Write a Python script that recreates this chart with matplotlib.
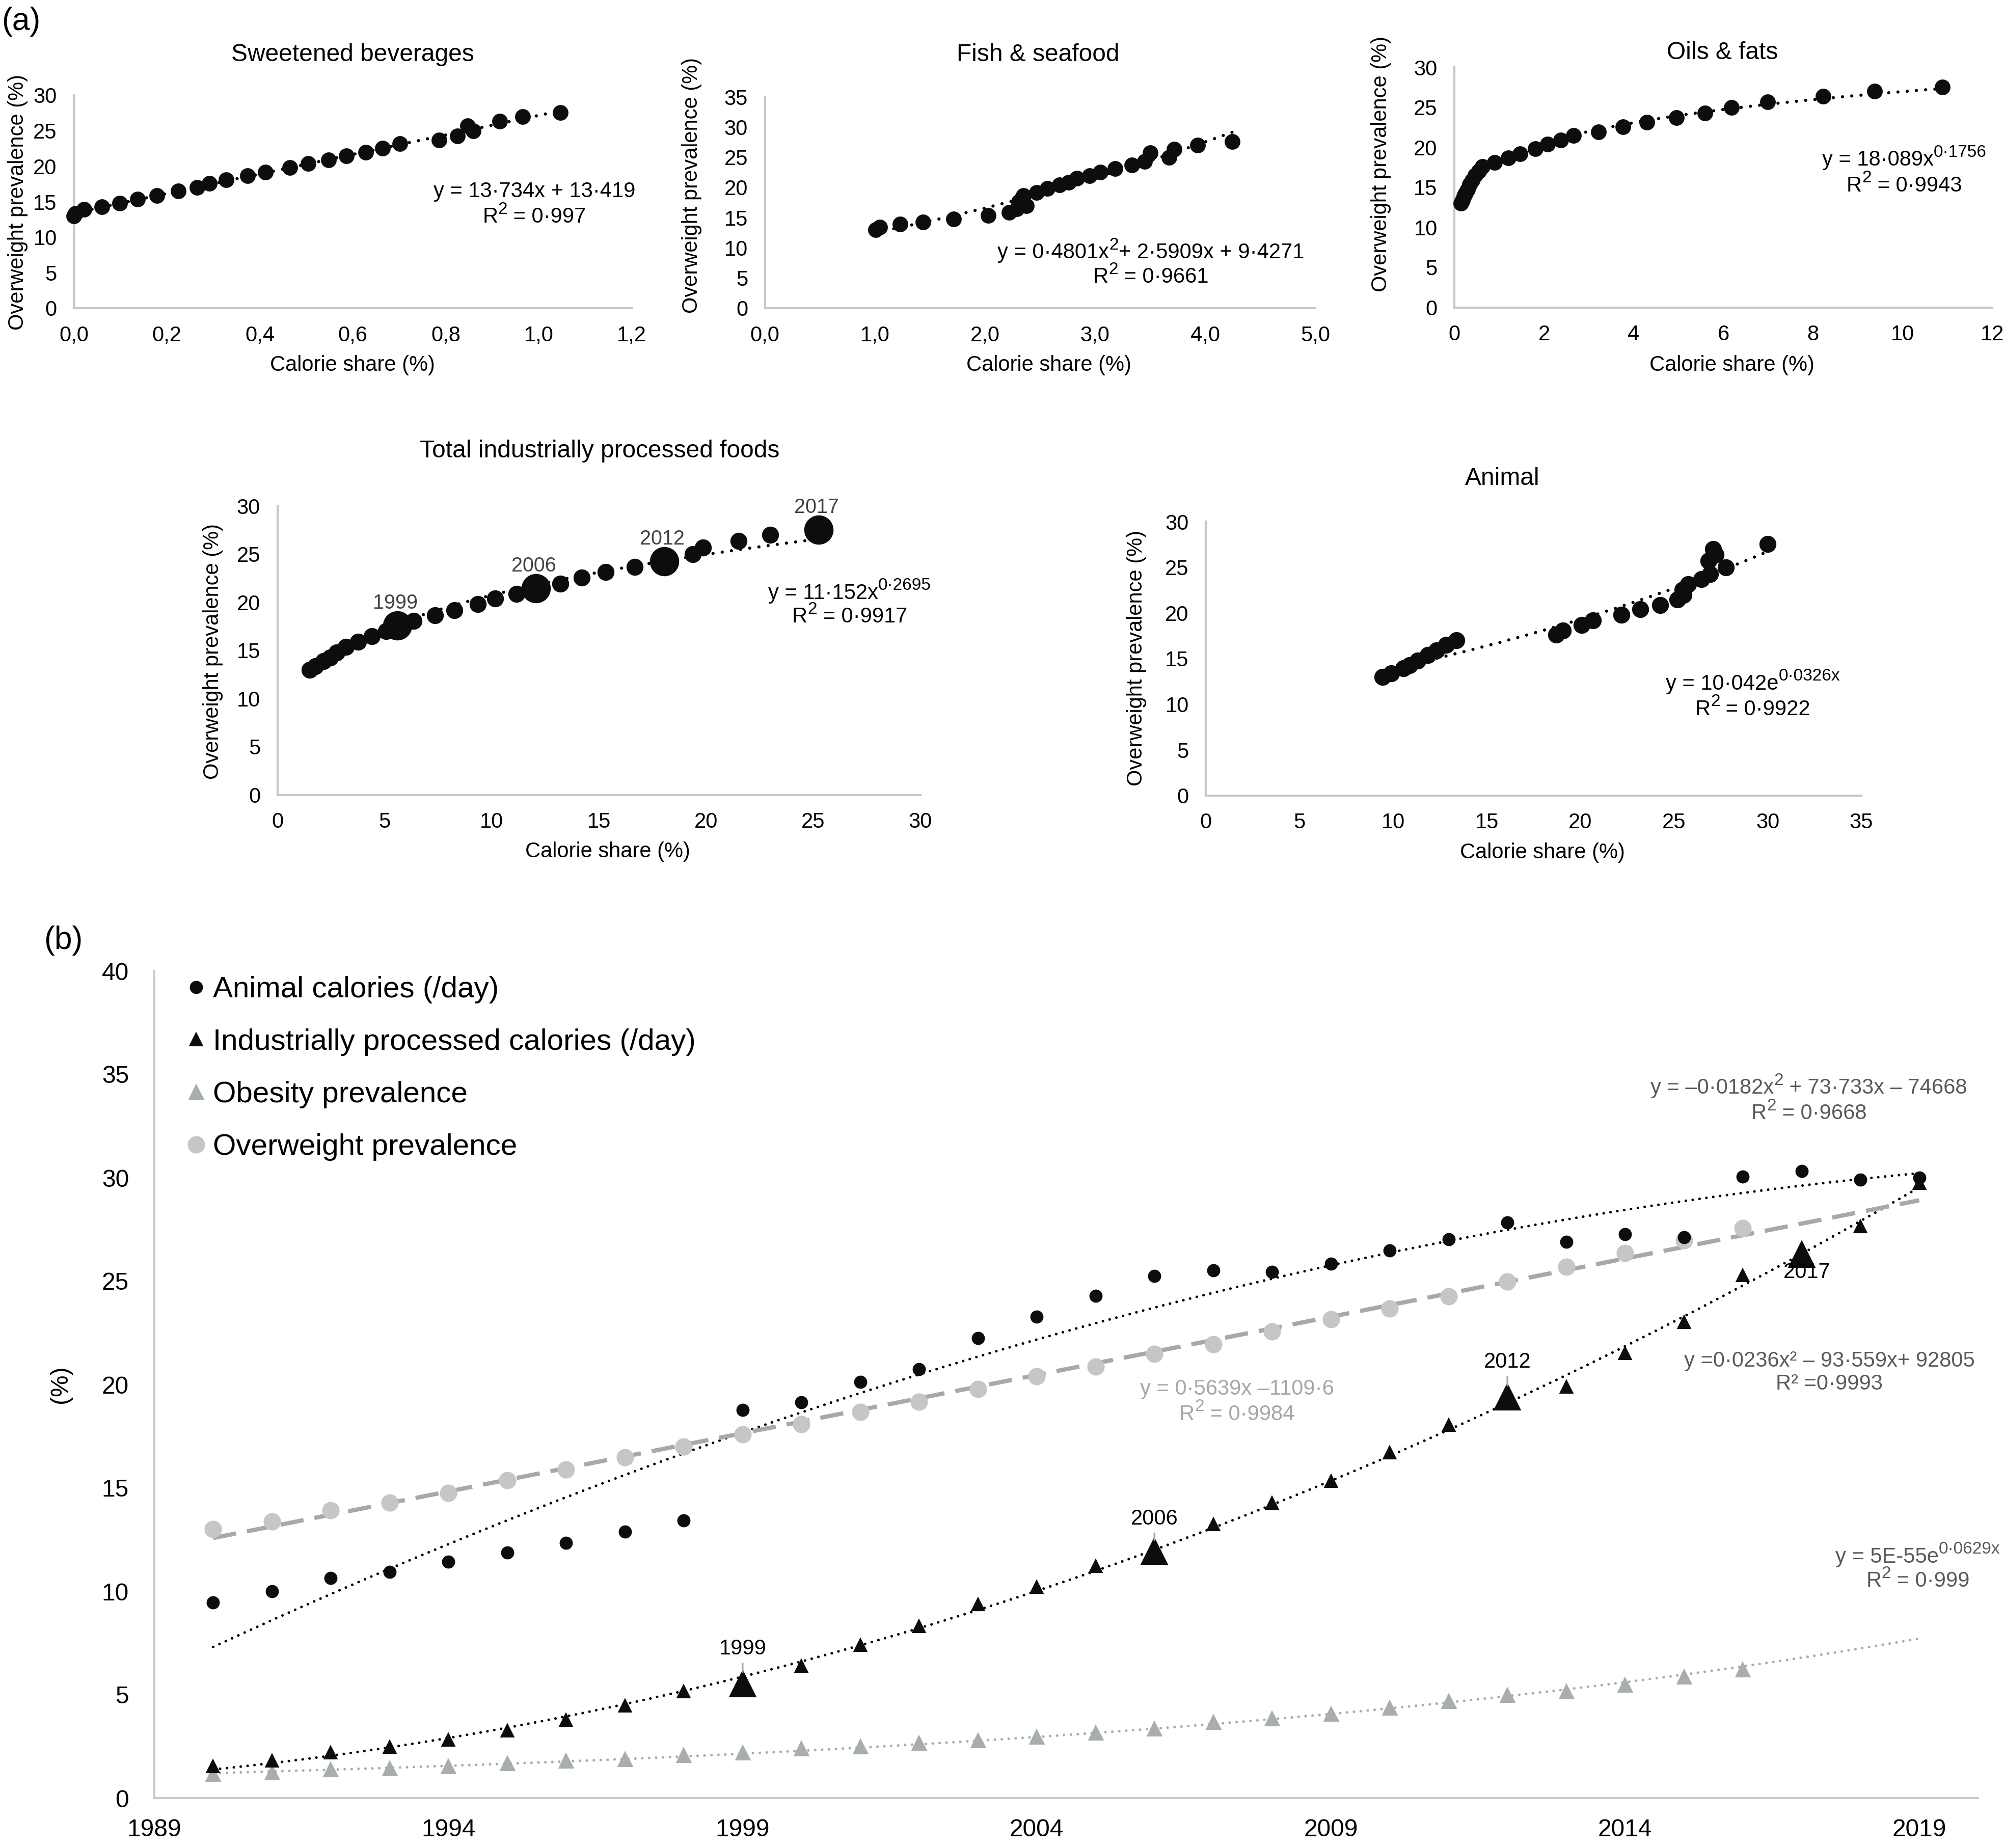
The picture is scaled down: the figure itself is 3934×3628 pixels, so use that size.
import numpy as np
import matplotlib
matplotlib.use('Agg')
import matplotlib.pyplot as plt
from matplotlib.lines import Line2D

plt.rcParams['font.family'] = ['Liberation Sans', 'DejaVu Sans']

# ---------------- data ----------------
# overweight prevalence 1990-2016 (%), shared y of panel (a)
overweight = [13.0, 13.37, 13.91, 14.28, 14.76, 15.36, 15.88, 16.48, 16.99, 17.59,
              18.07, 18.67, 19.16, 19.79, 20.39, 20.87, 21.47, 21.95, 22.55, 23.15,
              23.67, 24.27, 24.98, 25.69, 26.35, 26.98, 27.55]

sweet_x = [0.0, 0.003, 0.022, 0.06, 0.099, 0.137, 0.179, 0.225, 0.265, 0.292,
           0.328, 0.374, 0.412, 0.465, 0.504, 0.548, 0.586, 0.628, 0.664, 0.701,
           0.786, 0.825, 0.859, 0.847, 0.916, 0.966, 1.047]
fish_x = [1.005, 1.044, 1.228, 1.438, 1.715, 2.029, 2.219, 2.29, 2.376, 2.307,
          2.33, 2.35, 2.469, 2.566, 2.678, 2.762, 2.835, 2.95, 3.046, 3.18,
          3.333, 3.452, 3.671, 3.502, 3.72, 3.93, 4.246]
oils_x = [0.15, 0.18, 0.22, 0.25, 0.29, 0.34, 0.40, 0.47, 0.54, 0.63,
          0.9, 1.2, 1.47, 1.81, 2.08, 2.38, 2.66, 3.22, 3.76, 4.3,
          4.96, 5.59, 6.18, 6.99, 8.23, 9.37, 10.89]
total_x = [1.5, 1.77, 2.14, 2.45, 2.77, 3.2, 3.77, 4.41, 5.07, 5.59,
           6.36, 7.36, 8.25, 9.36, 10.16, 11.16, 12.05, 13.2, 14.2, 15.32,
           16.68, 18.05, 19.39, 19.86, 21.52, 23.0, 25.25]
total_big_idx = [9, 16, 21, 26]
total_big_labels = ['1999', '2006', '2012', '2017']
animal_x = [9.45, 9.89, 10.54, 10.88, 11.32, 11.87, 12.31, 12.83, 13.37, 18.7,
            19.07, 20.06, 20.66, 22.2, 23.19, 24.25, 25.19, 25.5, 25.45, 25.76,
            26.47, 26.93, 27.77, 26.83, 27.22, 27.09, 30.0]

# panel (b)
years = list(range(1990, 2020))
animal_b = [9.46, 10.0, 10.63, 10.94, 11.43, 11.88, 12.34, 12.88, 13.42, 18.76,
            19.13, 20.13, 20.73, 22.24, 23.27, 24.29, 25.24, 25.52, 25.44, 25.84,
            26.49, 27.01, 27.83, 26.89, 27.26, 27.12, 30.06, 30.31, 29.89, 30.0]
industrial_b = [1.53, 1.81, 2.18, 2.47, 2.81, 3.24, 3.78, 4.47, 5.15, 5.52,
                6.38, 7.38, 8.29, 9.37, 10.2, 11.2, 11.91, 13.22, 14.25, 15.33,
                16.70, 18.04, 19.38, 19.87, 21.50, 23.01, 25.26, 26.29, 27.63, 29.74]
overweight_b = overweight
obesity_b = [1.16, 1.24, 1.38, 1.44, 1.53, 1.67, 1.81, 1.87, 2.07, 2.18,
             2.38, 2.50, 2.67, 2.78, 2.95, 3.15, 3.35, 3.67, 3.84, 4.07,
             4.35, 4.67, 4.98, 5.15, 5.46, 5.86, 6.21]
big_years_b = [1999, 2006, 2012, 2017]

legend_labels = ['Animal calories (/day)', 'Industrially processed calories (/day)',
                 'Obesity prevalence', 'Overweight prevalence']

# ---------------- figure ----------------
W, H, DPI = 3934, 3628, 300
fig = plt.figure(figsize=(W / DPI, H / DPI), dpi=DPI)
fig.patch.set_facecolor('white')
renderer = fig.canvas.get_renderer()

AXC = '#C3C9C9'
TXT = '#000000'


def add_ax(x0, x1, ytop, ybot):
    return fig.add_axes([x0 / W, 1 - ybot / H, (x1 - x0) / W, (ybot - ytop) / H])


def ftext(x, y, s, **kw):
    return fig.text(x / W, 1 - y / H, s, ha=kw.pop('ha', 'center'), va=kw.pop('va', 'center'), **kw)


def text_width(s, fs):
    t1 = fig.text(0, 0, 'x' + s + 'x', fontsize=fs)
    t2 = fig.text(0, 0, 'xx', fontsize=fs)
    w = t1.get_window_extent(renderer).width - t2.get_window_extent(renderer).width
    t1.remove()
    t2.remove()
    return w


def sup_text(xc, yc, parts, fs=10, color='black', ss=0.8):
    """parts: list of (string, is_superscript); centred at (xc, yc) in pixels."""
    px_per_pt = DPI / 72.0
    sizes = [fs * ss if sup else fs for _, sup in parts]
    widths = [text_width(s, f) for (s, _), f in zip(parts, sizes)]
    x = xc - sum(widths) / 2.0
    base = yc + 0.36 * fs * px_per_pt
    for (s, sup), f, w in zip(parts, sizes, widths):
        yb = base - (0.42 * fs * px_per_pt if sup else 0)
        fig.text(x / W, 1 - yb / H, s, fontsize=f, color=color, ha='left', va='baseline')
        x += w


def style(ax, fs, pad_x, pad_y, lw=1.0):
    for side in ['top', 'right']:
        ax.spines[side].set_visible(False)
    for side in ['left', 'bottom']:
        ax.spines[side].set_color(AXC)
        ax.spines[side].set_linewidth(lw)
    ax.tick_params(axis='both', length=0, labelsize=fs, colors=TXT)
    ax.tick_params(axis='x', pad=pad_x)
    ax.tick_params(axis='y', pad=pad_y)
    ax.set_facecolor('none')


DOT = (0, (0.01, 2.9))
DOTB = (0, (0.01, 2.6))


def trend_line(ax, xs, ys, color='black', lw=1.5, ls=DOT, z=1):
    ax.plot(xs, ys, color=color, lw=lw, ls=ls, dash_capstyle='round',
            solid_capstyle='round', zorder=z, clip_on=False)


def scatter_a(ax, x, y, ms=6.4):
    ax.plot(x, y, ls='none', marker='o', ms=ms, color='#0d0d0d', mec='#0d0d0d',
            zorder=3, clip_on=False)


ow = np.array(overweight)

# ---- (a1) Sweetened beverages
ax1 = add_ax(145, 1240, 187, 605)
style(ax1, 10, 8, 8)
ax1.set_xlim(0, 1.2)
ax1.set_ylim(0, 30)
ax1.set_xticks([0, 0.2, 0.4, 0.6, 0.8, 1.0, 1.2])
ax1.set_xticklabels(['0,0', '0,2', '0,4', '0,6', '0,8', '1,0', '1,2'])
ax1.set_yticks(range(0, 31, 5))
sx = np.array(sweet_x)
c = np.polyfit(sx, ow, 1)
xx = np.linspace(sx.min(), sx.max(), 200)
trend_line(ax1, xx, np.polyval(c, xx))
scatter_a(ax1, sx, ow)
ftext(692, 107, 'Sweetened beverages', fontsize=11.5)
ftext(692, 717, 'Calorie share (%)', fontsize=10)
ftext(35, 397, 'Overweight prevalence (%)', fontsize=10, rotation=90)
ftext(1049, 376, 'y = 13·734x + 13·419', fontsize=10)
sup_text(1049, 422, [('R', False), ('2', True), (' = 0·997', False)])

# ---- (a2) Fish & seafood
ax2 = add_ax(1501.5, 2582, 190, 605)
style(ax2, 10, 8, 8)
ax2.set_xlim(0, 5)
ax2.set_ylim(0, 35)
ax2.set_xticks([0, 1, 2, 3, 4, 5])
ax2.set_xticklabels(['0,0', '1,0', '2,0', '3,0', '4,0', '5,0'])
ax2.set_yticks(range(0, 36, 5))
fx = np.array(fish_x)
c = np.polyfit(fx, ow, 2)
xx = np.linspace(fx.min(), fx.max(), 200)
trend_line(ax2, xx, np.polyval(c, xx))
scatter_a(ax2, fx, ow)
ftext(2038, 107, 'Fish & seafood', fontsize=11.5)
ftext(2059, 717, 'Calorie share (%)', fontsize=10)
ftext(1358, 364, 'Overweight prevalence (%)', fontsize=10, rotation=90)
sup_text(2259, 492, [('y = 0·4801x', False), ('2', True), ('+ 2·5909x + 9·4271', False)])
sup_text(2259, 540, [('R', False), ('2', True), (' = 0·9661', False)])

# ---- (a3) Oils & fats
ax3 = add_ax(2855, 3911, 132, 603.5)
style(ax3, 10, 8, 8)
ax3.set_xlim(0, 12)
ax3.set_ylim(0, 30)
ax3.set_xticks(range(0, 13, 2))
ax3.set_yticks(range(0, 31, 5))
ox = np.array(oils_x)
c = np.polyfit(np.log(ox), np.log(ow), 1)
xx = np.linspace(ox.min(), ox.max(), 400)
trend_line(ax3, xx, np.exp(c[1]) * xx ** c[0])
scatter_a(ax3, ox, ow)
ftext(3381, 104, 'Oils & fats', fontsize=11.5)
ftext(3400, 717, 'Calorie share (%)', fontsize=10)
ftext(2711, 322, 'Overweight prevalence (%)', fontsize=10, rotation=90)
sup_text(3738, 310, [('y = 18·089x', False), ('0·1756', True)])
sup_text(3738, 361, [('R', False), ('2', True), (' = 0·9943', False)])

# ---- (a4) Total industrially processed foods
ax4 = add_ax(544.5, 1807, 993.4, 1560.5)
style(ax4, 10, 8, 8)
ax4.set_xlim(0, 30)
ax4.set_ylim(0, 30)
ax4.set_xticks(range(0, 31, 5))
ax4.set_yticks(range(0, 31, 5))
tx = np.array(total_x)
c = np.polyfit(np.log(tx), np.log(ow), 1)
xx = np.linspace(tx.min(), tx.max(), 300)
trend_line(ax4, xx, np.exp(c[1]) * xx ** c[0])
small = [i for i in range(len(tx)) if i not in total_big_idx]
scatter_a(ax4, tx[small], ow[small], ms=7.0)
scatter_a(ax4, tx[total_big_idx], ow[total_big_idx], ms=12.8)
for i, lab in zip(total_big_idx, total_big_labels):
    ax4.annotate(lab, (tx[i], ow[i]), xytext=(-1, 10.5), textcoords='offset points',
                 ha='center', va='center', fontsize=9.5, color='#404040')
ftext(1177, 886, 'Total industrially processed foods', fontsize=11.5)
ftext(1193, 1672, 'Calorie share (%)', fontsize=10)
ftext(418, 1279, 'Overweight prevalence (%)', fontsize=10, rotation=90)
sup_text(1668, 1161, [('y = 11·152x', False), ('0·2695', True)])
sup_text(1668, 1207, [('R', False), ('2', True), (' = 0·9917', False)])

# ---- (a5) Animal
ax5 = add_ax(2367, 3654, 1024, 1561.6)
style(ax5, 10, 8, 8)
ax5.set_xlim(0, 35)
ax5.set_ylim(0, 30)
ax5.set_xticks(range(0, 36, 5))
ax5.set_yticks(range(0, 31, 5))
anx = np.array(animal_x)
c = np.polyfit(anx, np.log(ow), 1)
xx = np.linspace(anx.min(), anx.max(), 300)
trend_line(ax5, xx, np.exp(c[1]) * np.exp(c[0] * xx))
scatter_a(ax5, anx, ow, ms=7.0)
ftext(2949, 939, 'Animal', fontsize=11.5)
ftext(3028, 1674, 'Calorie share (%)', fontsize=10)
ftext(2231, 1292, 'Overweight prevalence (%)', fontsize=10, rotation=90)
sup_text(3441, 1339, [('y = 10·042e', False), ('0·0326x', True)])
sup_text(3441, 1389, [('R', False), ('2', True), (' = 0·9922', False)])

ftext(41, 43, '(a)', fontsize=15)
ftext(124, 1847, '(b)', fontsize=15)

# ---------------- panel (b) ----------------
axb = add_ax(303, 3883, 1906, 3530)
style(axb, 11.5, 9.5, 12, lw=0.9)
axb.set_xlim(1989, 2020)
axb.set_ylim(0, 40)
axb.set_xticks([1989, 1994, 1999, 2004, 2009, 2014, 2019])
axb.set_yticks(range(0, 41, 5))
axb.set_ylabel('(%)', fontsize=11.5, labelpad=14)

yr = np.array(years, dtype=float)
yr_ow = yr[:len(overweight_b)]
xc = yr - 2000.0
xfull = np.linspace(1990, 2019, 300)

# trendlines
c_an = np.polyfit(xc, animal_b, 2)
trend_line(axb, xfull, np.polyval(c_an, xfull - 2000), color='black', lw=1.25, ls=DOTB, z=2)
c_in = np.polyfit(xc, industrial_b, 2)
trend_line(axb, xfull, np.polyval(c_in, xfull - 2000), color='black', lw=1.25, ls=DOTB, z=2)
c_ow = np.polyfit(yr_ow - 2000, overweight_b, 1)
axb.plot(xfull, np.polyval(c_ow, xfull - 2000), color='#A7A9A9', lw=2.0,
         ls=(0, (5.5, 2.6)), zorder=2)
c_ob = np.polyfit(yr_ow - 2000, np.log(obesity_b), 1)
trend_line(axb, xfull, np.exp(np.polyval(c_ob, xfull - 2000)), color='#A8ACAC',
           lw=1.25, ls=DOTB, z=2)

# markers
axb.plot(yr_ow, overweight_b, ls='none', marker='o', ms=7.2, color='#C6C6C6', zorder=3)
axb.plot(yr_ow, obesity_b, ls='none', marker='^', ms=6.0, color='#A8AEAE', zorder=3)
axb.plot(yr, animal_b, ls='none', marker='o', ms=5.2, color='#0d0d0d', zorder=4)
ind = np.array(industrial_b)
big_mask = np.isin(yr, big_years_b)
axb.plot(yr[~big_mask], ind[~big_mask], ls='none', marker='^', ms=5.5, color='#0d0d0d', zorder=4)
axb.plot(yr[big_mask], ind[big_mask], ls='none', marker='^', ms=11.5, color='#0d0d0d', zorder=4)

offsets_b = [(0, 16.5), (0, 15.5), (0, 16.5), (2.5, -8.5)]
for yb, off in zip(big_years_b, offsets_b):
    v = ind[years.index(yb)]
    ap = dict(arrowstyle='-', color='#A6A6A6', lw=0.8, shrinkA=0, shrinkB=5.5) if off[1] > 0 else None
    axb.annotate(str(yb), (yb, v), xytext=off, textcoords='offset points',
                 ha='center', va='center', fontsize=10, color='black',
                 arrowprops=ap, zorder=5)

# equations
G1 = '#595959'
G2 = '#A6A6A6'
sup_text(3551, 2132, [('y = –0·0182x', False), ('2', True), (' + 73·733x – 74668', False)], color=G1)
sup_text(3551, 2182, [('R', False), ('2', True), (' = 0·9668', False)], color=G1)
ftext(2428, 2727, 'y = 0·5639x –1109·6', fontsize=10, color=G2)
sup_text(2428, 2773, [('R', False), ('2', True), (' = 0·9984', False)], color=G2)
ftext(3591, 2672, 'y =0·0236x² – 93·559x+ 92805', fontsize=10, color=G1)
ftext(3591, 2717, 'R² =0·9993', fontsize=10, color=G1)
sup_text(3765, 3053, [('y = 5E-55e', False), ('0·0629x', True)], color=G1)
sup_text(3765, 3100, [('R', False), ('2', True), (' = 0·999', False)], color=G1)

# legend
handles = [Line2D([], [], ls='none', marker='o', ms=5.2, color='#0d0d0d'),
           Line2D([], [], ls='none', marker='^', ms=5.5, color='#0d0d0d'),
           Line2D([], [], ls='none', marker='^', ms=6.0, color='#A8AEAE'),
           Line2D([], [], ls='none', marker='o', ms=7.2, color='#C6C6C6')]
axb.legend(handles, legend_labels, loc='upper left', bbox_to_anchor=(370 / W, 1 - 1916 / H),
           bbox_transform=fig.transFigure, frameon=False, fontsize=14,
           handlelength=0.5, handletextpad=0.32, labelspacing=0.84,
           borderpad=0, borderaxespad=0)

fig.savefig('out.png', dpi=DPI, facecolor='white')
